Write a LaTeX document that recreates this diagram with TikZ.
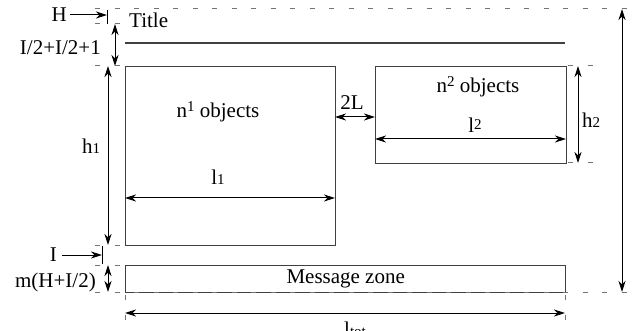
\documentclass[tikz,border=0pt]{standalone}
\usepackage{fontspec}
\setmainfont{Liberation Serif}
\usetikzlibrary{arrows.meta}
\newcommand\lowdig[1]{{\fontsize{15}{15}\selectfont #1}}
\newcommand\highdig[1]{\raisebox{0.3em}{\fontsize{15}{15}\selectfont #1}}
\begin{document}
\begin{tikzpicture}[x=1pt,y=-1pt,
  lbl/.style={inner sep=0pt, font=\fontsize{21}{24}\selectfont},
  box/.style={draw=black!75, line width=1.4pt, inner sep=0pt, anchor=north west},
  tip/.style={Stealth[length=11pt,width=7pt,inset=3.5pt]},
  dim/.style={draw=black, line width=1pt, {Stealth[length=11pt,width=7pt,inset=3.5pt]}-{Stealth[length=11pt,width=7pt,inset=3.5pt]}},
  ptr/.style={draw=black, line width=1pt, -{Stealth[length=11pt,width=7pt,inset=3.5pt]}},
  guide/.style={draw=black!55, line width=1pt, dash pattern=on 5pt off 14.5pt},
  tick/.style={draw=black, line width=1pt},
  rule/.style={draw=black!75, line width=1.4pt}]
\useasboundingbox (0,0) rectangle (634,331);

% boxes
\node[box, minimum width=210pt, minimum height=179pt] (b1) at (125,66) {};
\node[box, minimum width=191pt, minimum height=97pt] (b2) at (375,66) {};
\node[box, minimum width=440pt, minimum height=27pt, font=\fontsize{21}{24}\selectfont] (mz) at (125,265) {Message zone};

% title
\node[lbl, anchor=west] (title) at (129,20) {Title};
\coordinate (tla) at (125,43);
\coordinate (tlb) at (565,43);
\draw[rule] (tla) -- (tlb);

% guides
\coordinate (g1a) at (95,9);   \coordinate (g1b) at (632,9);
\coordinate (g2a) at (95,292); \coordinate (g2b) at (632,292);
\coordinate (g3a) at (95,24);  \coordinate (g3b) at (121,24);
\coordinate (g4a) at (95,66);  \coordinate (g4b) at (122,66);
\coordinate (g5a) at (95,245); \coordinate (g5b) at (122,245);
\coordinate (g6a) at (95,265); \coordinate (g6b) at (122,265);
\coordinate (g7a) at (568,66); \coordinate (g7b) at (598,66);
\coordinate (g8a) at (568,163);\coordinate (g8b) at (598,163);
\coordinate (g9a) at (125,295);\coordinate (g9b) at (125,325);
\coordinate (g10a) at (565,295);\coordinate (g10b) at (565,325);
\foreach \g in {g1,g2,g3,g4,g5,g6,g7,g8,g9,g10}
  \draw[guide] (\g a) -- (\g b);

% left labels
\node[lbl, anchor=east] (H) at (67,15) {H};
\coordinate (Hbar) at (107,15);
\coordinate (Hbt) at (107,10); \coordinate (Hbb) at (107,24);
\draw[tick] (Hbt) -- (Hbb);
\draw[ptr] ([xshift=3pt]H.east) -- (Hbar);

\node[lbl, anchor=east] (gap) at (101,48) {I/2+I/2+1};
\coordinate (ga) at (115,24); \coordinate (gb) at (115,66);
\draw[dim] (ga) -- (gb);

\node[lbl] (h1) at (91,146) {h\lowdig{1}};
\coordinate (h1a) at (108,66); \coordinate (h1b) at (108,245);
\draw[dim] (h1a) -- (h1b);

\node[lbl, anchor=east] (I) at (57,255) {I};
\coordinate (Ibar) at (102,255);
\coordinate (Ibt) at (102,246); \coordinate (Ibb) at (102,264);
\draw[tick] (Ibt) -- (Ibb);
\draw[ptr] ([xshift=5pt]I.east) -- (Ibar);

\node[lbl, anchor=east] (m) at (96,282) {m(H+I/2)};
\coordinate (ma) at (108,265); \coordinate (mb) at (108,292);
\draw[dim] (ma) -- (mb);

% inside labels
\node[lbl] (n1) at (218,112) {n\highdig{1} objects};
\node[lbl] (n2) at (478,87) {n\highdig{2} objects};
\node[lbl] (l1) at (218,177) {l\lowdig{1}};
\node[lbl] (l2) at (475,125) {l\raisebox{0.15em}{\fontsize{15}{15}\selectfont 2}};
\node[lbl] (twoL) at (352,103) {2L};
\node[lbl, anchor=west] (h2) at (582,120) {h\lowdig{2}};

\coordinate (l1a) at (125,198); \coordinate (l1b) at (335,198);
\draw[dim] (l1a) -- (l1b);
\coordinate (l2a) at (375,139); \coordinate (l2b) at (566,139);
\draw[dim] (l2a) -- (l2b);
\coordinate (La) at (335,117); \coordinate (Lb) at (375,117);
\draw[dim] (La) -- (Lb);
\coordinate (h2a) at (578,66); \coordinate (h2b) at (578,163);
\draw[dim] (h2a) -- (h2b);

% total
\coordinate (ta) at (622,9); \coordinate (tb) at (622,292);
\draw[dim] (ta) -- (tb);
\coordinate (lta) at (125,313); \coordinate (ltb) at (565,313);
\draw[dim] (lta) -- (ltb);
\node[lbl, anchor=base] (ltot) at (355,336) {l\lowdig{tot}};
\end{tikzpicture}
\end{document}
